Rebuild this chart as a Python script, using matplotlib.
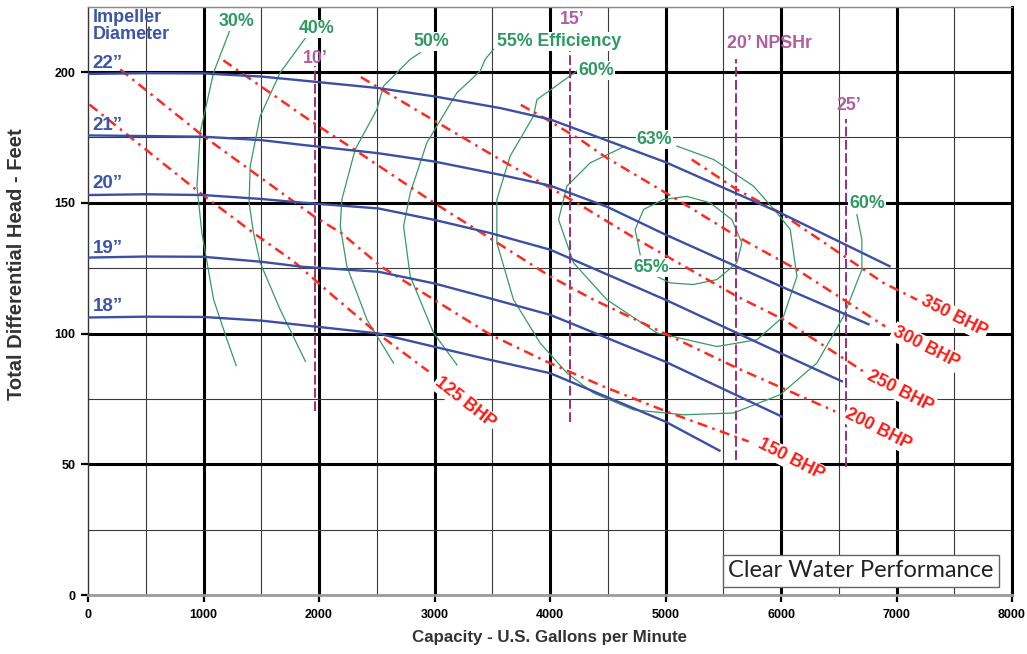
import matplotlib
matplotlib.use("Agg")
import matplotlib.pyplot as plt

plt.rcParams['font.family'] = ['Liberation Sans', 'DejaVu Sans']

# ---------------- data ----------------
x_ticks = [0, 1000, 2000, 3000, 4000, 5000, 6000, 7000, 8000]
y_ticks = [0, 50, 100, 150, 200]

# impeller head curves (gpm, ft)
imp_names = ['22”', '21”', '20”', '19”', '18”']
imp_label_y = [201.5, 178.0, 155.8, 130.8, 108.6]
h22_q = [0, 500, 1000, 1500, 1851, 2512, 3000, 3575, 4002, 4998, 5993, 6940]
h22_h = [199.3, 199.6, 199.5, 198.3, 196.8, 193.9, 190.7, 186.2, 181.9, 165.6, 146.2, 125.8]
h21_q = [0, 1000, 1500, 1851, 2512, 3000, 3575, 4002, 4500, 4998, 5993, 6758]
h21_h = [175.8, 175.3, 174.0, 172.2, 169.0, 165.8, 160.7, 156.6, 148.4, 137.9, 118.2, 103.6]
h20_q = [0, 500, 1000, 1500, 1851, 2512, 3000, 3489, 4002, 4998, 5993, 6527]
h20_h = [153.0, 153.3, 153.0, 151.5, 150.1, 147.9, 143.5, 138.4, 132.1, 113.0, 92.6, 81.8]
h19_q = [0, 500, 1000, 1500, 1851, 2512, 3000, 3431, 4002, 4998, 6008]
h19_h = [129.1, 129.5, 129.4, 127.5, 125.6, 123.7, 119.2, 114.1, 107.2, 89.3, 68.3]
h18_q = [0, 500, 1000, 1500, 1851, 2512, 3000, 3431, 4002, 4998, 5468]
h18_h = [106.2, 106.5, 106.4, 105.0, 103.3, 100.1, 95.0, 90.5, 84.9, 66.4, 55.3]

# brake horsepower lines
bhp_names = ['125 BHP', '150 BHP', '200 BHP', '250 BHP', '300 BHP', '350 BHP']
bhp_label_q = [3266, 6087, 6844, 7031, 7256, 7495]
bhp_label_h = [73.5, 51.8, 63.3, 77.9, 94.9, 106.6]
bhp_label_rot = [-38, -27, -27, -27, -27, -27]
b125_q = [13, 971, 1433, 1779, 2126, 2501, 2948]
b125_h = [187.6, 153.8, 138.5, 127.7, 114.3, 100.3, 85.6]
b150_q = [279, 1000, 1953, 2195, 2540, 3000, 3489, 3977, 4463, 5041, 5719]
b150_h = [201.0, 175.5, 145.0, 138.4, 125.6, 112.9, 99.5, 89.2, 79.8, 69.7, 58.8]
b200_q = [1172, 1952, 2310, 3000, 3460, 4002, 4377, 4983, 5618, 6469]
b200_h = [204.5, 180.6, 170.3, 149.9, 137.1, 121.9, 113.0, 100.3, 86.9, 70.3]
b250_q = [2362, 3000, 3575, 3920, 4236, 4709, 5618, 6022, 6714]
b250_h = [198.1, 181.4, 166.4, 157.8, 149.9, 137.2, 114.3, 105.4, 85.6]
b300_q = [3747, 3977, 4265, 4492, 5099, 5618, 6138, 6902]
b300_h = [187.5, 181.8, 174.1, 167.2, 151.3, 137.2, 124.5, 102.8]
b350_q = [5227, 5618, 5993, 6888, 7177]
b350_h = [166.6, 155.1, 146.2, 119.4, 113.0]

# efficiency contours
e30_q = [1231, 1087, 971, 943, 986, 1087, 1203, 1283]
e30_h = [216.3, 199.8, 176.8, 156.4, 138.5, 113.1, 97.8, 87.8]
e40_q = [1895, 1664, 1491, 1404, 1395, 1433, 1491, 1664, 1883]
e40_h = [213.8, 199.8, 183.2, 164.0, 150.0, 138.5, 127.1, 109.2, 89.4]
e50_q = [2876, 2790, 2558, 2501, 2313, 2198, 2184, 2241, 2415, 2645]
e50_h = [207.4, 204.9, 194.6, 185.7, 170.4, 151.3, 141.1, 125.8, 105.4, 88.8]
e55_q = [3511, 3439, 3396, 3194, 2934, 2790, 2732, 2790, 2992, 3194]
e55_h = [208.7, 204.9, 200.4, 192.1, 173.0, 153.8, 141.1, 121.9, 100.3, 88.1]
e60_q = [4232, 3887, 3857, 3655, 3540, 3540, 3684, 3915, 4146, 4377, 4723, 5156,
         5589, 5993, 6311, 6541, 6700, 6700, 6657]
e60_h = [200.4, 189.5, 183.2, 167.9, 151.3, 134.7, 113.0, 96.4, 85.0, 77.3, 70.9, 69.0,
         69.7, 76.7, 88.8, 106.6, 124.5, 136.0, 145.5]
e63_q = [4651, 4347, 4146, 4074, 4204, 4492, 4925, 5445, 5792, 6022, 6138, 6080,
         5965, 5762, 5416, 5099]
e63_h = [171.7, 165.3, 156.4, 143.6, 127.1, 113.0, 100.3, 95.1, 97.7, 106.6, 121.9, 139.8,
         146.2, 156.4, 166.6, 171.7]
e65_q = [4781, 4737, 4810, 4983, 5185, 5387, 5575, 5661, 5618, 5445, 5242, 5041, 4925]
e65_h = [130.2, 139.8, 147.5, 151.3, 152.5, 150.0, 143.6, 134.7, 127.1, 120.7, 118.8, 119.4, 121.9]
eff_labels = ['30%', '40%', '50%', '55% Efficiency', '60%', '63%', '65%', '60%']
eff_label_q = [1283, 1976, 2970, 4080, 4398, 4903, 4872, 6743]
eff_label_h = [219.4, 216.5, 211.6, 211.6, 200.7, 174.2, 125.4, 149.7]

# NPSHr lines
npsh_labels = ['10’', '15’', '20’ NPSHr', '25’']
npsh_q = [1967, 4169, 5610, 6562]
npsh_top = [202.2, 208.7, 205.0, 181.9]
npsh_bot = [70.3, 66.4, 51.8, 49.2]
npsh_label_q = [1967, 4190, 5899, 6590]
npsh_label_h = [205.3, 220.2, 210.9, 187.3]

# ---------------- styles ----------------
BLUE = '#3c4fa2'
BLUE_T = '#3b55aa'
RED = '#ff2a1f'
GREEN = '#379a66'
GREEN_T = '#2e9962'
PURP = '#9a2f7a'
PURP_T = '#b25ca4'

fig = plt.figure(figsize=(10.27, 6.54), dpi=100)
ax = fig.add_axes([88 / 1027, 58.7 / 654, 924 / 1027, 588.6 / 654])
ax.set_xlim(0, 8000)
ax.set_ylim(0, 225)

ax.set_xticks(x_ticks)
ax.set_yticks(y_ticks)
ax.set_xticks([v + 500 for v in x_ticks[:-1]], minor=True)
ax.set_yticks([v + 25 for v in y_ticks], minor=True)
ax.grid(which='major', color='black', lw=2.2, zorder=0)
ax.grid(which='minor', color='#3a3a3a', lw=0.8, zorder=0)
ax.set_axisbelow(True)
ax.get_ygridlines()[0].set_visible(False)
ax.get_xgridlines()[0].set_visible(False)
ax.tick_params(which='major', direction='out', length=5, width=1.6, color='black',
               labelsize=9, pad=4)
ax.tick_params(axis='x', which='major', pad=5)
ax.tick_params(which='minor', length=0)
for lab in ax.get_xticklabels() + ax.get_yticklabels():
    lab.set_fontweight('bold')
ax.spines['left'].set_color('#333333')
ax.spines['left'].set_linewidth(1.0)
ax.spines['bottom'].set_color('#9a9a9a')
ax.spines['bottom'].set_linewidth(2.0)
ax.spines['top'].set_color('#8a8a8a')
ax.spines['top'].set_linewidth(1.0)
ax.spines['right'].set_color('black')
ax.spines['right'].set_linewidth(2.2)

ax.set_xlabel('Capacity - U.S. Gallons per Minute', fontsize=12.2, fontweight='bold',
              color='#333333', labelpad=6)
ax.set_ylabel('Total Differential Head - Feet', fontsize=14.5, fontweight='bold',
              color='#333333')
ax.yaxis.set_label_coords(-0.067, 0.563)

# efficiency contours
for q, h in [(e30_q, e30_h), (e40_q, e40_h), (e50_q, e50_h), (e55_q, e55_h),
             (e60_q, e60_h), (e63_q, e63_h), (e65_q, e65_h)]:
    ax.plot(q, h, color=GREEN, lw=0.9, zorder=2)

# NPSHr lines
for q, t, b in zip(npsh_q, npsh_top, npsh_bot):
    ax.plot([q, q], [b, t], color=PURP, lw=1.4, ls=(0, (5, 1.8)), zorder=3)

# BHP lines
for q, h in [(b125_q, b125_h), (b150_q, b150_h), (b200_q, b200_h),
             (b250_q, b250_h), (b300_q, b300_h), (b350_q, b350_h)]:
    ax.plot(q, h, color=RED, lw=1.8, ls=(0, (4, 2.2, 1, 2.2)), zorder=4)

# head curves
for q, h in [(h22_q, h22_h), (h21_q, h21_h), (h20_q, h20_h), (h19_q, h19_h), (h18_q, h18_h)]:
    ax.plot(q, h, color=BLUE, lw=1.7, zorder=5)

# labels
for name, y in zip(imp_names, imp_label_y):
    ax.text(40, y, name, color=BLUE_T, fontsize=13.5, fontweight='bold', va='baseline',
            ha='left', zorder=6)
ax.text(40, 224, 'Impeller\nDiameter', color=BLUE_T, fontsize=13, fontweight='bold',
        va='top', ha='left', linespacing=1.0, zorder=6)

for t, q, h in zip(eff_labels, eff_label_q, eff_label_h):
    ax.text(q, h, t, color=GREEN_T, fontsize=12.8, fontweight='bold', ha='center',
            va='center', zorder=6,
            bbox=dict(boxstyle='square,pad=0.05', fc='white', ec='none'))

for t, q, h in zip(npsh_labels, npsh_label_q, npsh_label_h):
    ax.text(q, h, t, color=PURP_T, fontsize=12.8, fontweight='bold', ha='center',
            va='center', zorder=6)

for t, q, h, r in zip(bhp_names, bhp_label_q, bhp_label_h, bhp_label_rot):
    ax.text(q, h, t, color='#ff1a12', fontsize=12.8, fontweight='bold', ha='center',
            va='center', rotation=r, rotation_mode='anchor', zorder=7,
            bbox=dict(boxstyle='square,pad=0.08', fc='white', ec='none'))

ax.text(5545, 9.3, 'Clear Water Performance', fontsize=17, family=['Lato', 'DejaVu Sans'],
        color='#222222', ha='left', va='center', zorder=8,
        bbox=dict(boxstyle='square,pad=0.22', fc='white', ec='#666666', lw=1.0))

fig.savefig('out.png', dpi=100)
